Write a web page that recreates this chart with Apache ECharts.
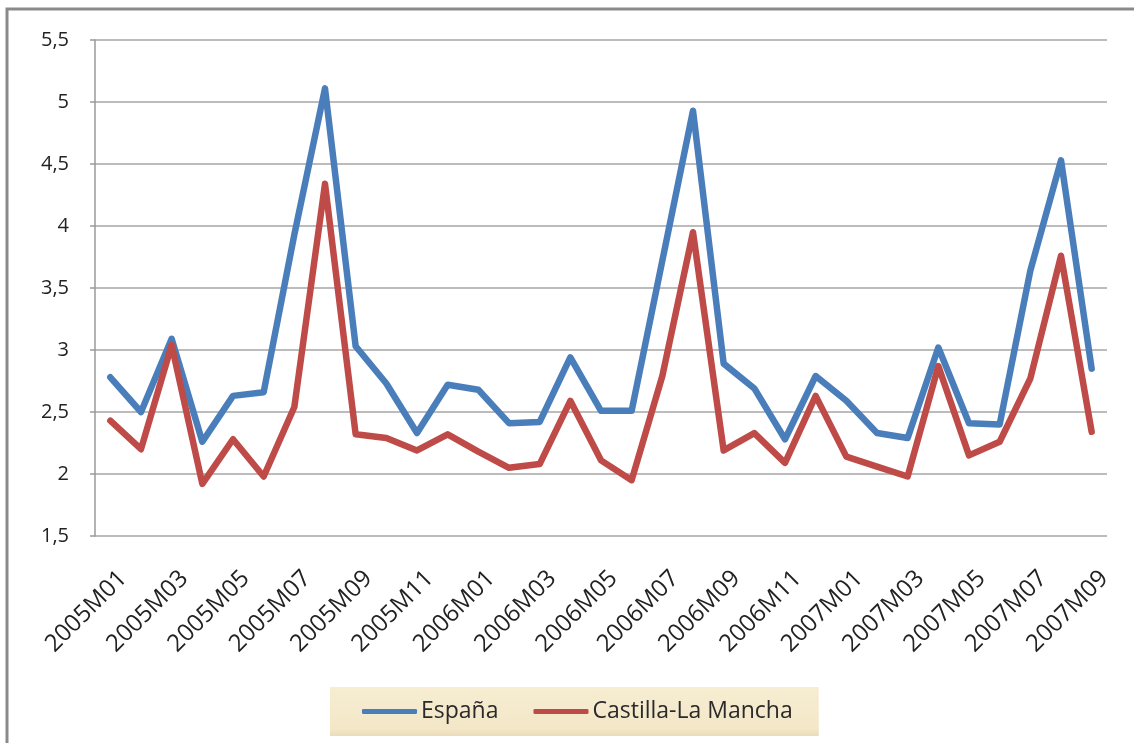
<!DOCTYPE html>
<html>
<head>
<meta charset="utf-8">
<script src="https://cdn.jsdelivr.net/npm/echarts@6/dist/echarts.min.js"></script>
<style>
html,body{margin:0;padding:0;background:#ffffff;}
#chart{width:1134px;height:743px;}
</style>
</head>
<body>
<div id="chart"></div>
<script>
const categories = [
  '2005M01','2005M02','2005M03','2005M04','2005M05','2005M06','2005M07','2005M08','2005M09','2005M10','2005M11','2005M12',
  '2006M01','2006M02','2006M03','2006M04','2006M05','2006M06','2006M07','2006M08','2006M09','2006M10','2006M11','2006M12',
  '2007M01','2007M02','2007M03','2007M04','2007M05','2007M06','2007M07','2007M08','2007M09'
];
const espana = [2.78,2.50,3.09,2.26,2.63,2.66,3.93,5.11,3.03,2.73,2.33,2.72,2.68,2.41,2.42,2.94,2.51,2.51,3.72,4.93,2.89,2.69,2.28,2.79,2.59,2.33,2.29,3.02,2.41,2.40,3.64,4.53,2.85];
const castillaLaMancha = [2.43,2.20,3.04,1.92,2.28,1.98,2.54,4.34,2.32,2.29,2.19,2.32,2.18,2.05,2.08,2.59,2.11,1.95,2.79,3.95,2.19,2.33,2.09,2.63,2.14,2.06,1.98,2.87,2.15,2.26,2.77,3.76,2.34];
const seriesNames = ['España','Castilla-La Mancha'];
const yMin = 1.5, yMax = 5.5, yStep = 0.5;

const chart = echarts.init(document.getElementById('chart'), null, {renderer:'canvas'});
const font = 'Open Sans, sans-serif';
chart.setOption({
  animation:false,
  backgroundColor:'#ffffff',
  color:['#4A7EBB','#BE4B48'],
  graphic:[
    {type:'polyline', silent:true, shape:{points:[[7,743],[7,9],[1134,9]]}, style:{stroke:'#8a8a8a', lineWidth:3, fill:null}}
  ],
  grid:{left:95, right:27, top:40, bottom:207, containLabel:false},
  legend:{
    left:330, top:687,
    padding:[13,26,13,32],
    itemGap:35,
    itemWidth:55, itemHeight:5,
    icon:'roundRect',
    textStyle:{fontFamily:font, fontSize:23, color:'#2a2a2a', padding:[0,0,0,-1]},
    backgroundColor:{type:'linear', x:0, y:0, x2:0, y2:1, colorStops:[{offset:0,color:'#f6edd2'},{offset:0.85,color:'#f4e7c8'},{offset:1,color:'#eadcb9'}]},
    data:seriesNames
  },
  xAxis:{
    type:'category',
    data:categories,
    boundaryGap:true,
    axisLine:{show:false},
    axisTick:{show:false},
    axisLabel:{interval:1, rotate:45, margin:26, fontFamily:font, fontSize:24, color:'#222',
      verticalAlign:'top', lineHeight:36}
  },
  yAxis:{
    type:'value',
    min:yMin, max:yMax, interval:yStep,
    axisLine:{show:true, lineStyle:{color:'#9a9a9a', width:1.5}},
    axisTick:{show:true, length:5, lineStyle:{color:'#9a9a9a', width:1.5}},
    splitLine:{show:true, lineStyle:{color:'#a6a6a6', width:1.5}},
    axisLabel:{margin:26, fontFamily:font, fontSize:20, color:'#222',
      formatter:function(v){return String(v).replace('.',',');}}
  },
  series:[
    {name:seriesNames[0], type:'line', data:espana, symbol:'none', lineStyle:{width:6.5, join:'round', cap:'round'}},
    {name:seriesNames[1], type:'line', data:castillaLaMancha, symbol:'none', lineStyle:{width:6.5, join:'round', cap:'round'}}
  ]
});
</script>
</body>
</html>
